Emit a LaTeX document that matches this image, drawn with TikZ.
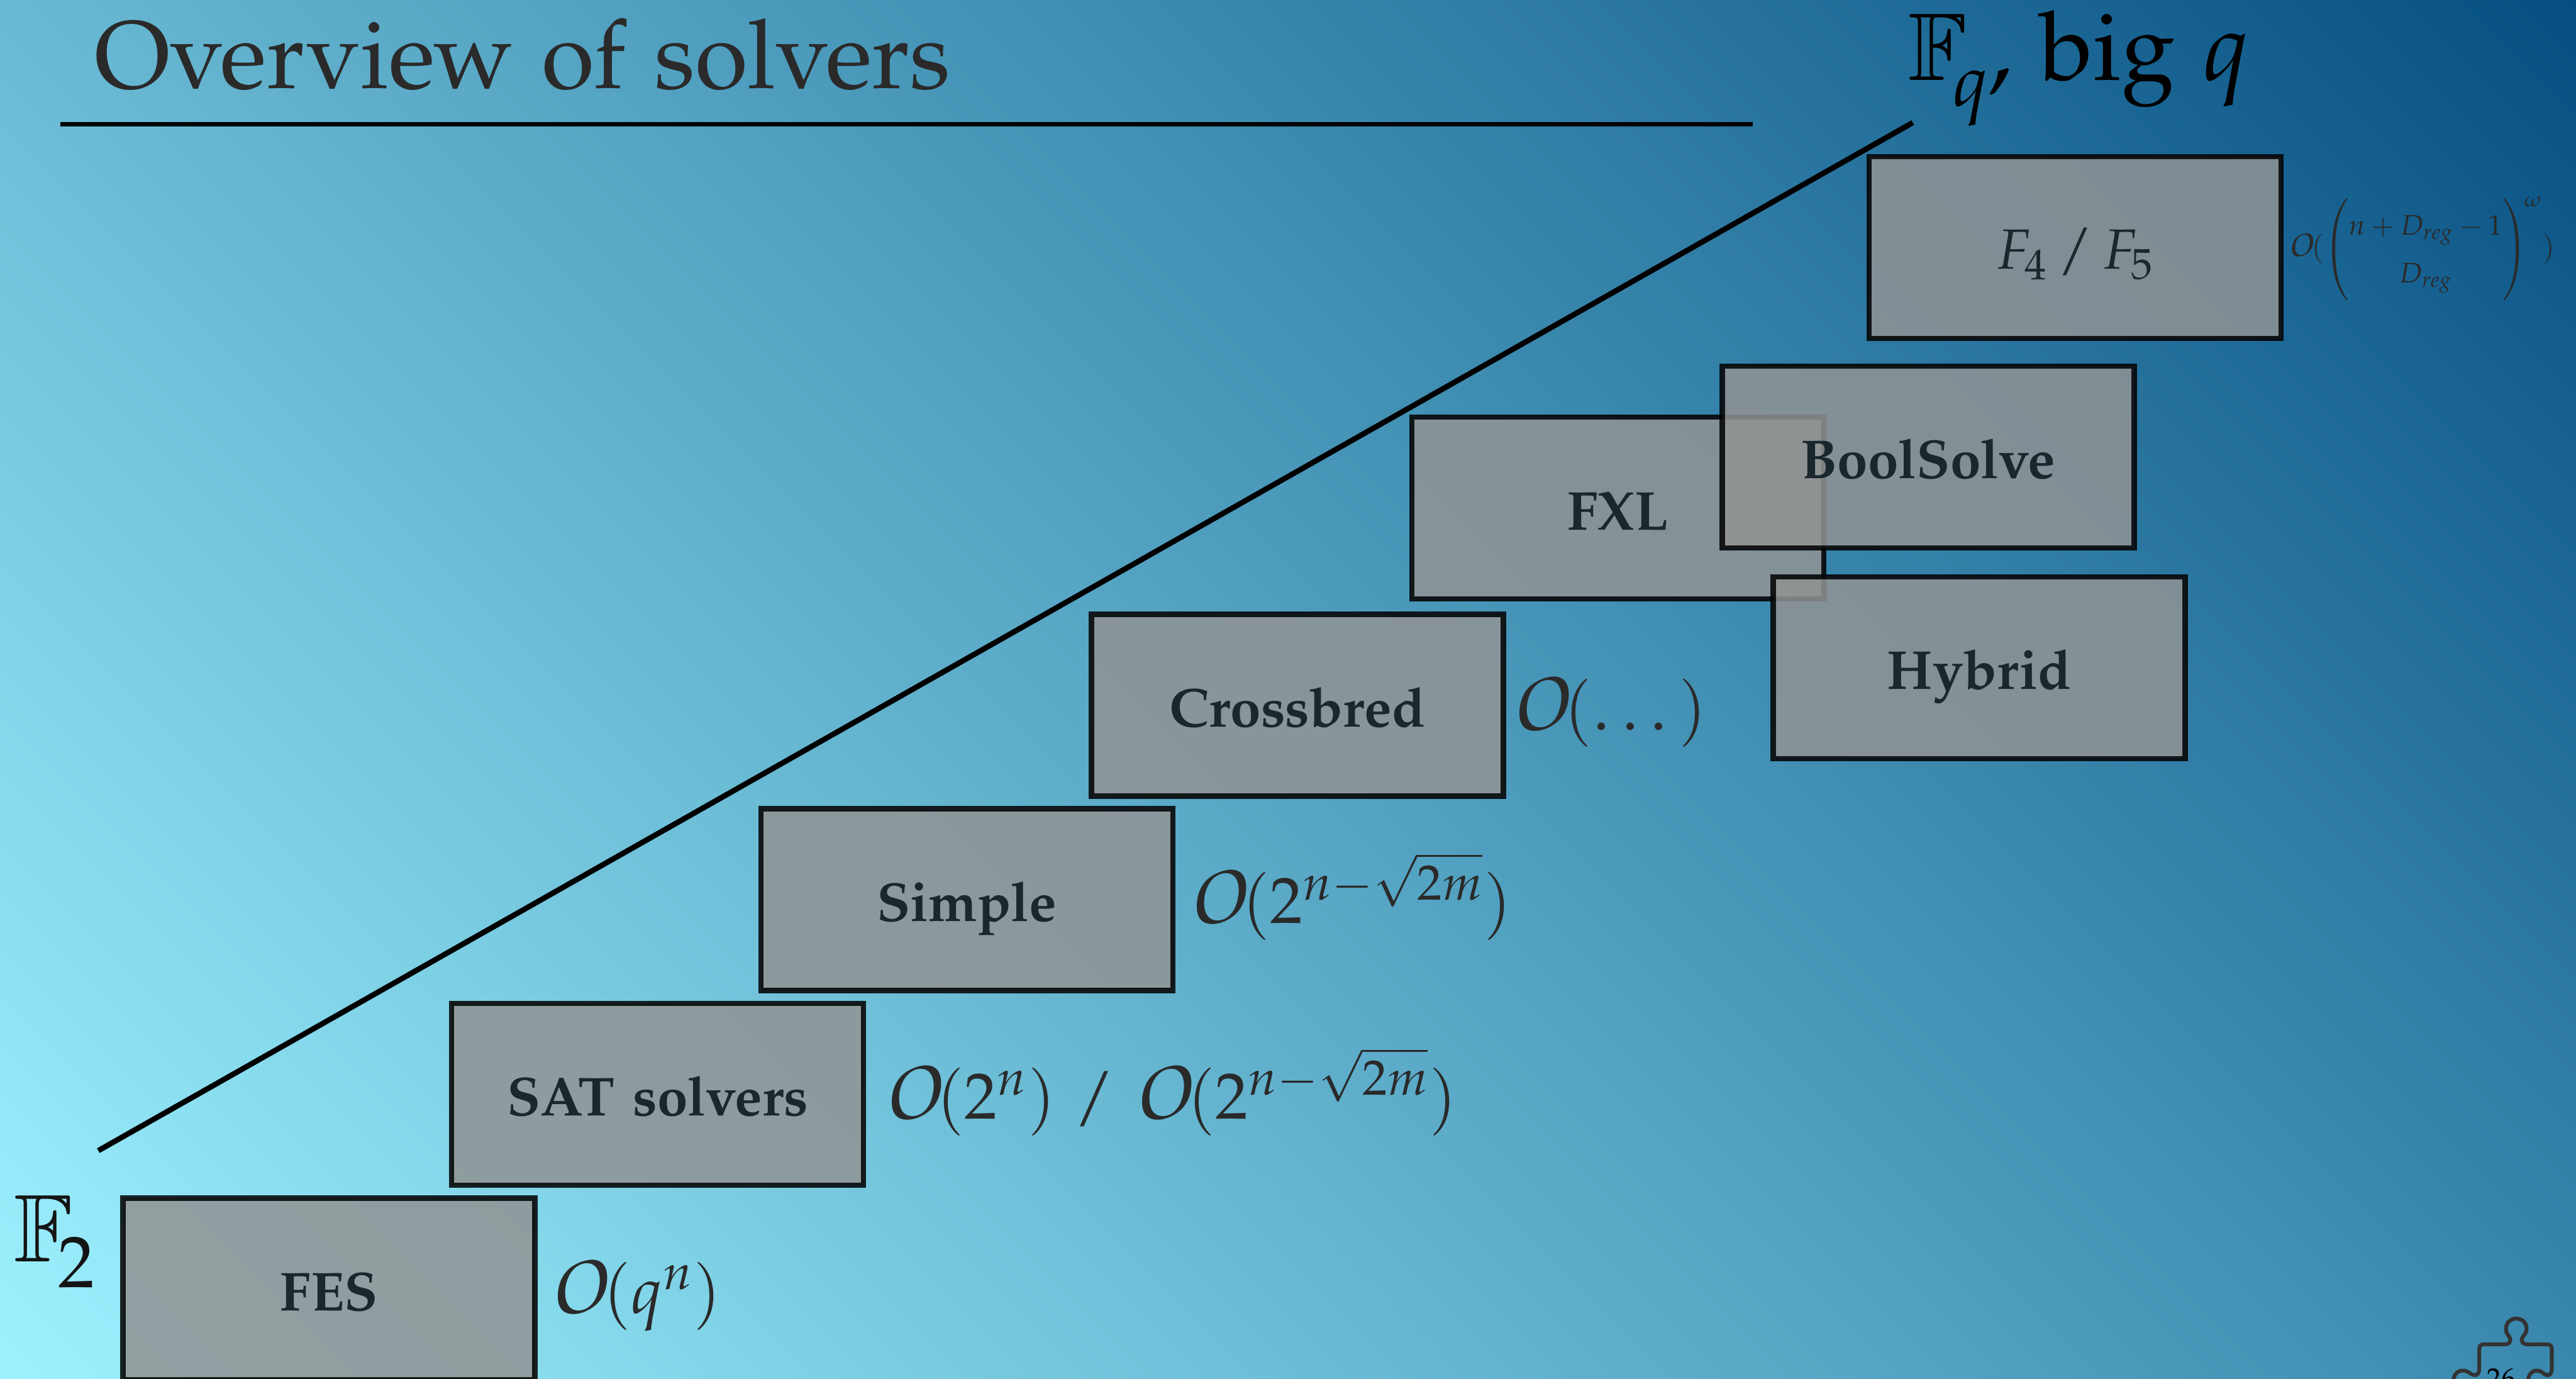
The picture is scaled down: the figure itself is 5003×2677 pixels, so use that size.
\documentclass[tikz,border=0pt]{standalone}
\usepackage{amsmath}
\usepackage[T1]{fontenc}
\usepackage[sc]{mathpazo}
\usetikzlibrary{calc}
\definecolor{boxfill}{HTML}{929393}
\definecolor{boxtext}{HTML}{1A282E}
\definecolor{lbl}{HTML}{2A2A2A}
\definecolor{puzz}{HTML}{333333}
\pgfdeclareverticalshading{bgshade}{1120pt}{rgb(0bp)=(0.62,0.95,1); rgb(1082bp)=(0.02,0.31,0.51)}
\IfFileExists{dsss12.tfm}{\font\bbB=dsss12 at 37.35pt}{\font\bbB=msbm10 at 37.35pt}
\IfFileExists{rsfs10.tfm}{\font\scrBig=rsfs10 at 25.4pt \font\scrSmall=rsfs10 at 11pt}{\font\scrBig=pzcmi8t at 35pt \font\scrSmall=pzcmi8t at 15pt}
\newcommand{\calO}{\mathord{\hbox{\scrBig O}}}
\newcommand{\calo}{\mathord{\hbox{\scrSmall O}}}
\newcommand{\fieldF}[1]{\makebox[17pt][l]{\bbB F}\raisebox{-10pt}{$\scriptstyle #1$}}
\tikzset{
  x=0.2pt,y=-0.2pt,
  solver/.style={draw=black,fill=boxfill,opacity=.85,text opacity=1,text=boxtext,
     line width=2.1pt,minimum width=160pt,minimum height=70.6pt,inner sep=0pt,
     font=\fontsize{21.3}{25}\selectfont\bfseries,text height=18pt,text depth=1.2pt,text width=150pt,align=center},
  cplx/.style={anchor=base west,inner sep=0pt,text=lbl,font=\fontsize{25.4}{30}\selectfont},
  bigf/.style={inner sep=0pt,font=\fontsize{37.35}{44}\selectfont},
  rule/.style={draw=black,line cap=butt},
}
\begin{document}
\begin{tikzpicture}
\useasboundingbox (0,0) rectangle (5003,2677);
\begin{scope}
\clip (0,0) rectangle (5003,2677);
\node[rotate=-45,inner sep=0pt,outer sep=0pt] (bg) at (2501.5,1338.5) {\pgfuseshading{bgshade}};

% title and rule
\node[inner sep=0pt,anchor=base west,text=lbl,font=\fontsize{37.35}{44}\selectfont] (title) at (183,172) {Overview of solvers};
\coordinate (ruleA) at (117,241);
\coordinate (ruleB) at (3404,241);
\draw[rule,line width=1.6pt] (ruleA) -- (ruleB);

% diagonal
\coordinate (diagA) at (191,2234);
\coordinate (diagB) at (3715,238);
\draw[rule,line width=2.1pt] (diagA) -- (diagB);

% corner labels
\node[bigf,anchor=base west,text=black] (fq) at (3706,156) {\fieldF{q}, big $q$};
\node[bigf,anchor=base west,text=black!92] (f2) at (27,2450) {\fieldF{2}};

% boxes
\node[solver] (fes)  at (639,2502.5) {FES};
\node[solver] (sat)  at (1277,2124.5) {SAT solvers};
\node[solver] (simple) at (1878,1747) {Simple};
\node[solver] (cross) at (2520,1369.5) {Crossbred};
\node[solver] (fxl) at (3142,986.5) {FXL};
\node[solver] (bool) at (3745,887.5) {BoolSolve};
\node[solver] (hybrid) at (3844,1296.5) {Hybrid};
\node[solver,font=\fontsize{22}{26}\selectfont] (f45) at (4030,480.5) {$F_4\,/\,F_5$};

% complexities
\node[cplx] (cfes) at (1065,2550) {$\calO(q^n)$};
\node[cplx] (csat) at (1713,2172) {$\calO(2^n)$ / $\calO(2^{n-\sqrt{2m}})$};
\node[cplx] (csimple) at (2306,1793) {$\calO(2^{n-\sqrt{2m}})$};
\node[cplx] (ccross) at (2932,1417) {$\calO(\dots)$};
\node[cplx,anchor=center,font=\fontsize{11}{13}\selectfont] (cf45) at (4703,482) {\renewcommand{\arraystretch}{1.43}$\displaystyle\calo(\left(\rule[-17pt]{0pt}{36pt}\begin{matrix} n+D_{reg}-1\\ D_{reg}\end{matrix}\right)^{\!\omega})$};

% puzzle piece
\draw[puzz,line width=1.5pt,line join=round]
  (4763,2695) .. controls (4763,2672) and (4770,2661) .. (4783,2661)
  .. controls (4795,2661) and (4798,2670) .. (4807,2670)
  .. controls (4812,2670) and (4815,2665) .. (4815,2658)
  -- (4815,2620) .. controls (4815,2613) and (4818,2610) .. (4825,2610)
  -- (4866,2610) .. controls (4873,2610) and (4877,2604) .. (4875,2599)
  .. controls (4872,2592) and (4867,2589) .. (4867,2580)
  .. controls (4867,2568) and (4876,2560) .. (4887,2560)
  .. controls (4898,2560) and (4907,2568) .. (4907,2580)
  .. controls (4907,2589) and (4901,2592) .. (4898,2599)
  .. controls (4896,2604) and (4900,2610) .. (4907,2610)
  -- (4946,2610) .. controls (4953,2610) and (4956,2613) .. (4956,2620)
  -- (4956,2658) .. controls (4956,2665) and (4953,2670) .. (4948,2670)
  .. controls (4940,2670) and (4938,2661) .. (4927,2661)
  .. controls (4915,2661) and (4908,2672) .. (4908,2695);
\node[inner sep=0pt,anchor=base,text=black,font=\fontsize{11}{13}\selectfont] (page) at (4858,2695) {26};
\end{scope}
\end{tikzpicture}
\end{document}
